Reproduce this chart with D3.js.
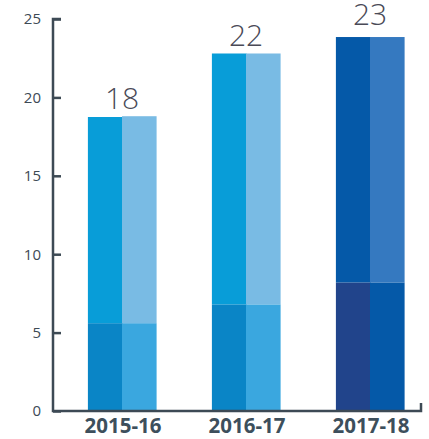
<!DOCTYPE html>
<html>
<head>
<meta charset="utf-8">
<script src="https://cdn.jsdelivr.net/npm/d3@7"></script>
<style>
  body { margin: 0; background: #fff; }
  svg { display: block; font-family: "Open Sans", sans-serif; }
</style>
</head>
<body>
<div id="chart"></div>
<script>
// data
var categories = ["2015-16", "2016-17", "2017-18"];
var leftBottom = [5.6, 6.8, 8.2];
var leftTotal = [18.75, 22.8, 23.85];
var rightBottom = [5.6, 6.8, 8.2];
var rightTotal = [18.8, 22.8, 23.85];
var topLabels = ["18", "22", "23"];
var yTicks = [0, 5, 10, 15, 20, 25];

var colors = [
  { lb: "#0a85c6", lt: "#089dd8", rb: "#3aa7df", rt: "#79bbe4" },
  { lb: "#0a85c6", lt: "#089dd8", rb: "#3aa7df", rt: "#79bbe4" },
  { lb: "#21448b", lt: "#0559a8", rb: "#0559a8", rt: "#3579c0" }
];
// how far each value label sits above its bar (px)
var labelLift = [7, 7, 12];

var width = 429, height = 439;
var axisColor = "#3d4a55";

var svg = d3.select("#chart").append("svg")
  .attr("width", width)
  .attr("height", height);

var y = d3.scaleLinear().domain([0, 25]).range([411, 19]);
var x = d3.scaleBand().domain(categories).range([60, 432]).paddingInner(0.45).paddingOuter(0.225);
var sub = d3.scaleBand().domain(["l", "r"]).range([0, x.bandwidth()]);

// bars
var groups = svg.selectAll("g.grp")
  .data(categories)
  .enter()
  .append("g")
  .attr("class", "grp")
  .attr("transform", function (d) { return "translate(" + x(d) + ",0)"; });

groups.each(function (d, i) {
  var g = d3.select(this);
  var segs = [
    { k: "l", y0: 0, y1: leftBottom[i], c: colors[i].lb },
    { k: "l", y0: leftBottom[i], y1: leftTotal[i], c: colors[i].lt },
    { k: "r", y0: 0, y1: rightBottom[i], c: colors[i].rb },
    { k: "r", y0: rightBottom[i], y1: rightTotal[i], c: colors[i].rt }
  ];
  g.selectAll("rect")
    .data(segs)
    .enter()
    .append("rect")
    .attr("x", function (s) { return sub(s.k); })
    .attr("width", sub.bandwidth() + 0.5)
    .attr("y", function (s) { return y(s.y1); })
    .attr("height", function (s) { return y(s.y0) - y(s.y1); })
    .style("fill", function (s) { return s.c; });
});

// value labels
svg.selectAll("text.val")
  .data(categories)
  .enter()
  .append("text")
  .attr("class", "val")
  .attr("x", function (d) { return x(d) + x.bandwidth() / 2; })
  .attr("y", function (d, i) { return y(Math.max(leftTotal[i], rightTotal[i])) - labelLift[i]; })
  .attr("text-anchor", "middle")
  .style("font-size", "30px")
  .style("font-weight", 300)
  .style("fill", "#4a4a57")
  .text(function (d, i) { return topLabels[i]; });

// y axis
var yAxis = d3.axisLeft(y)
  .tickValues(yTicks)
  .tickSizeInner(-8)
  .tickSizeOuter(0)
  .tickPadding(12);

var yg = svg.append("g")
  .attr("transform", "translate(53,0)")
  .call(yAxis);
yg.select(".domain").remove();
yg.selectAll(".tick line").attr("stroke", axisColor).attr("stroke-width", 2.5);
yg.selectAll(".tick text")
  .style("font-size", "15px")
  .style("font-family", "Open Sans, sans-serif")
  .style("fill", axisColor);

// axis lines
svg.append("path")
  .attr("d", "M" + 61 + "," + y(25) + "H53V" + y(0) + "H421V" + (y(0) - 8))
  .attr("fill", "none")
  .attr("stroke", axisColor)
  .attr("stroke-width", 2.5);

// x labels
svg.selectAll("text.cat")
  .data(categories)
  .enter()
  .append("text")
  .attr("class", "cat")
  .attr("x", function (d) { return x(d) + x.bandwidth() / 2 + 1; })
  .attr("y", 433)
  .attr("text-anchor", "middle")
  .style("font-size", "20.5px")
  .style("font-weight", "bold")
  .style("fill", "#3d4f5c")
  .text(function (d) { return d; });
</script>
</body>
</html>
